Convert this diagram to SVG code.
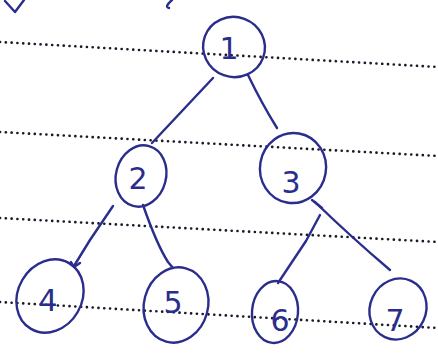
<svg xmlns="http://www.w3.org/2000/svg" width="438" height="360" viewBox="0 0 438 360">
<style>
.ink{fill:none;stroke:#2a2d8c;stroke-width:2.4;stroke-linecap:round;stroke-linejoin:round}
.rule{fill:none;stroke:#1a1a2a;stroke-width:2.6;stroke-linecap:round;stroke-dasharray:0.1 5.7}
.lbl{font-family:"DejaVu Sans",sans-serif;font-size:30px;fill:#2a2d8c;text-anchor:middle}
</style>
<rect width="438" height="360" fill="#ffffff"/>
<g id="rules">
<line class="rule" x1="0" y1="42" x2="438" y2="67"/>
<line class="rule" x1="0" y1="132" x2="438" y2="156"/>
<line class="rule" x1="0" y1="218" x2="438" y2="242"/>
<line class="rule" x1="0" y1="302" x2="438" y2="328"/>
</g>
<g id="marks">
<path class="ink" d="M5 1 L15 12 L24 0"/>
<path class="ink" d="M172 0 Q164 7 169 8"/>
</g>
<g id="connectors">
<path class="ink" d="M213 78 L152 143"/>
<path class="ink" d="M248 75 Q262 104 277 128"/>
<path class="ink" d="M113 206 L90 240 L74 266"/>
<path class="ink" d="M71 262 L74 267 L80 263"/>
<path class="ink" d="M143 205 Q157 245 168 262 L173 268"/>
<path class="ink" d="M320 215 L306 241 Q290 265 278 283"/>
<path class="ink" d="M315 202 Q350 236 390 270"/>
<path class="ink" d="M312 200 L322 208"/>
</g>
<g id="node1">
<ellipse class="ink" cx="234" cy="47" rx="31" ry="30" transform="rotate(20 234 47)"/>
<text class="lbl" x="229" y="59">1</text>
</g>
<g id="node2">
<ellipse class="ink" cx="141" cy="176" rx="25" ry="31" transform="rotate(15 141 176)"/>
<text class="lbl" x="138" y="189">2</text>
</g>
<g id="node3">
<ellipse class="ink" cx="293" cy="168" rx="33" ry="35" transform="rotate(10 293 168)"/>
<text class="lbl" x="291" y="193">3</text>
</g>
<g id="node4">
<ellipse class="ink" cx="50" cy="296" rx="32" ry="38" transform="rotate(30 50 296)"/>
<text class="lbl" x="48" y="311">4</text>
</g>
<g id="node5">
<ellipse class="ink" cx="176" cy="305" rx="32" ry="38" transform="rotate(15 176 305)"/>
<text class="lbl" x="173" y="313">5</text>
</g>
<g id="node6">
<ellipse class="ink" cx="275" cy="312" rx="23" ry="31" transform="rotate(5 275 312)"/>
<text class="lbl" x="280" y="331">6</text>
</g>
<g id="node7">
<ellipse class="ink" cx="398" cy="309" rx="28" ry="31" transform="rotate(25 398 309)"/>
<text class="lbl" x="395" y="331">7</text>
</g>
</svg>
